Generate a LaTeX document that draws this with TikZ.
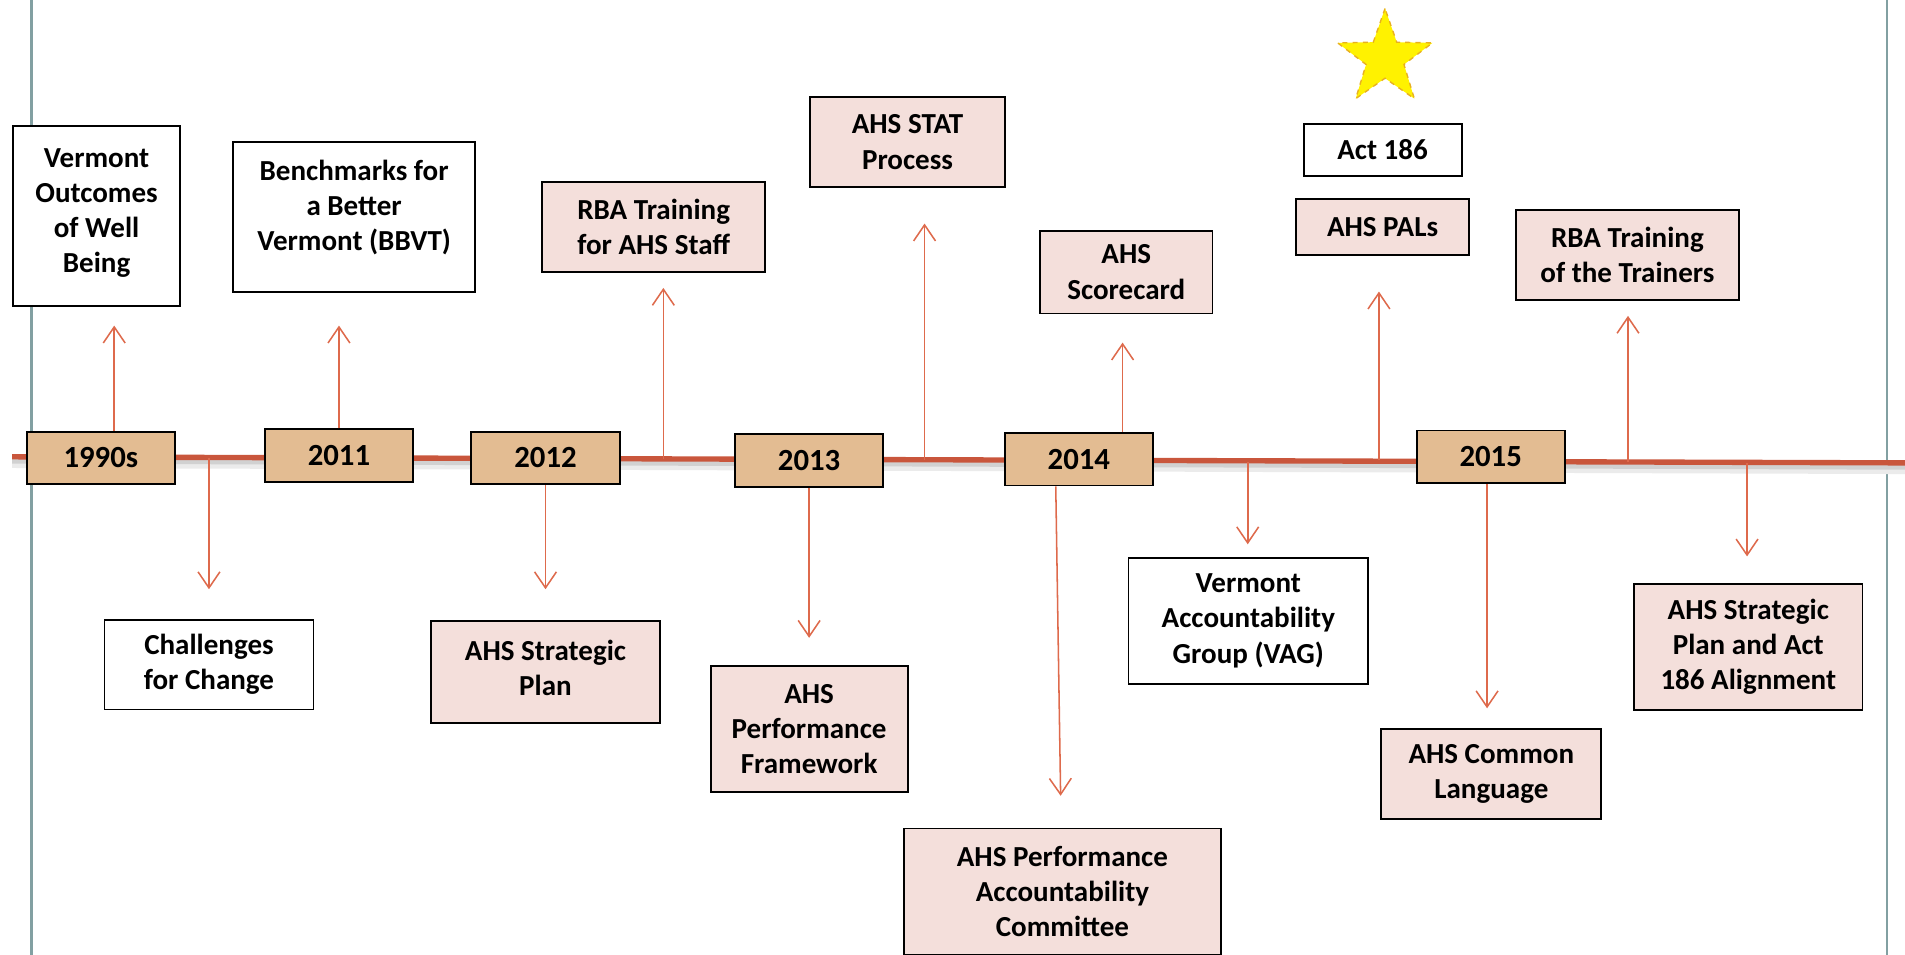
\documentclass[tikz,border=0pt]{standalone}
\usepackage{fontspec}
\setmainfont{Carlito}
\usepackage{tikz}
\usetikzlibrary{arrows.meta}
\usetikzlibrary{shapes.geometric}
\definecolor{YearTan}{HTML}{E3BC92}
\definecolor{NotePink}{HTML}{F4DFDB}
\definecolor{LineRed}{HTML}{C9563C}
\definecolor{ArrowRed}{HTML}{DE6A4C}
\definecolor{EdgeGrey}{HTML}{82A0A2}
\definecolor{StarEdge}{HTML}{E8B020}
\tikzstyle{YearNode}=[rectangle, draw=black, line width=1.1pt, fill=YearTan, minimum width=3.05cm, minimum height=1.08cm, inner sep=0pt, font=\bfseries\fontsize{18}{20}\selectfont]
\tikzstyle{NoteNode}=[rectangle, draw=black, line width=1.1pt, fill=white, align=center, inner sep=0pt, font=\bfseries\fontsize{17}{20.6}\selectfont]
\tikzstyle{PinkNode}=[NoteNode, fill=NotePink]
\tikzstyle{UpEdge}=[->, draw=ArrowRed, line width=0.9pt]
\tikzstyle{DownEdge}=[UpEdge]
\tikzstyle{TimeLine}=[line width=0.11cm, LineRed]
\tikzstyle{PageEdge}=[line width=1.3pt, EdgeGrey]
\tikzset{>={Straight Barb[length=0.33cm, width=0.45cm]}}

\begin{document}
\begin{tikzpicture}[x=0.025cm, y=-0.025cm]
\useasboundingbox (0,0) rectangle (1568,786);

% page edges
\draw[PageEdge] (26,0) -- (26,786);
\draw[PageEdge] (1553,0) -- (1553,786);

% time line
\coordinate (TL) at (10,376);
\coordinate (TR) at (1568,381);
\draw[line width=0.22cm, black!8] ([yshift=-0.12cm]TL) -- ([yshift=-0.12cm]TR);
\draw[line width=0.12cm, black!18] ([yshift=-0.08cm]TL) -- ([yshift=-0.08cm]TR);
\draw[TimeLine](TL) -- (TR);

% years
\node[YearNode](Y1990) at (83,377) {1990s};
\node[YearNode](Y2011) at (279,375) {2011};
\node[YearNode](Y2012) at (449,377) {2012};
\node[YearNode](Y2013) at (666,379) {2013};
\node[YearNode](Y2014) at (888,378) {2014};
\node[YearNode](Y2015) at (1227,376) {2015};

% above the line
\node[NoteNode, minimum width=3.43cm, minimum height=3.7cm](VOWB) at (79.5,178) {Vermont\\Outcomes\\of Well\\Being\\[-14pt]};
\node[NoteNode, minimum width=4.98cm, minimum height=3.08cm](BBVT) at (291.5,178.5) {Benchmarks for\\a Better\\Vermont (BBVT)\\[-7pt]};
\node[PinkNode, minimum width=4.6cm, minimum height=1.85cm](RBAStaff) at (538,187) {RBA Training\\for AHS Staff};
\node[PinkNode, minimum width=4cm, minimum height=1.85cm](STAT) at (747,117) {AHS STAT\\Process};
\node[PinkNode, minimum width=3.55cm, minimum height=1.7cm](Scorecard) at (927,224) {AHS\\Scorecard};
\node[NoteNode, minimum width=3.25cm, minimum height=1.08cm](Act186) at (1138,123.5) {Act 186};
\node[PinkNode, minimum width=3.55cm, minimum height=1.15cm](PALs) at (1138,187) {AHS PALs};
\node[PinkNode, minimum width=4.58cm, minimum height=1.85cm](RBATrainers) at (1339.5,210) {RBA Training\\of the Trainers};
\node[star, star points=5, star point ratio=2.5, minimum size=2.05cm, inner sep=0pt, fill=yellow, draw=StarEdge, dashed, line width=0.8pt](Star) at (1140,48) {};

% below the line
\node[NoteNode, minimum width=4.3cm, minimum height=1.85cm](CFC) at (172,547) {Challenges\\for Change};
\node[PinkNode, minimum width=4.7cm, minimum height=2.1cm](StratPlan) at (449,553) {AHS Strategic\\Plan\\[-16pt]};
\node[PinkNode, minimum width=4.05cm, minimum height=2.6cm](PerfFrame) at (666,600) {AHS\\Performance\\Framework};
\node[PinkNode, minimum width=6.53cm, minimum height=2.6cm](PAC) at (874.5,734) {AHS Performance\\Accountability\\Committee};
\node[NoteNode, minimum width=4.93cm, minimum height=2.6cm](VAG) at (1027.5,511) {Vermont\\Accountability\\Group (VAG)};
\node[PinkNode, minimum width=4.53cm, minimum height=1.85cm](CommonLang) at (1227.5,637) {AHS Common\\Language};
\node[PinkNode, minimum width=4.7cm, minimum height=2.58cm](Alignment) at (1439,532.5) {AHS Strategic\\Plan and Act\\186 Alignment};

% arrow feet on the line and arrow tips
\coordinate (b3) at (546,378);
\coordinate (b4) at (761,379);
\coordinate (b6) at (1135,379);
\coordinate (b7) at (1340,380);
\coordinate (b8) at (172,377);
\coordinate (b9) at (1027,380);
\coordinate (b10) at (1438,381);
\coordinate (u1) at (94,268);
\coordinate (u2) at (279,268);
\coordinate (u3) at (546,237);
\coordinate (u4) at (761,184);
\coordinate (u5) at (924,282);
\coordinate (u6) at (1135,240);
\coordinate (u7) at (1340,260);
\coordinate (d1) at (172,485);
\coordinate (d2) at (449,485);
\coordinate (d3) at (666,525);
\coordinate (d4) at (873,655);
\coordinate (d5) at (1027,448);
\coordinate (d6) at (1224,583);
\coordinate (d7) at (1438,458);

\draw[UpEdge](Y1990.north -| u1) -- (u1);
\draw[UpEdge](Y2011.north -| u2) -- (u2);
\draw[UpEdge](b3) -- (u3);
\draw[UpEdge](b4) -- (u4);
\draw[UpEdge](Y2014.north -| u5) -- (u5);
\draw[UpEdge](b6) -- (u6);
\draw[UpEdge](b7) -- (u7);

\draw[DownEdge](b8) -- (d1);
\draw[DownEdge](Y2012.south -| d2) -- (d2);
\draw[DownEdge](Y2013.south -| d3) -- (d3);
\draw[DownEdge]([xshift=-0.475cm]Y2014.south) -- (d4);
\draw[DownEdge](b9) -- (d5);
\draw[DownEdge](Y2015.south -| d6) -- (d6);
\draw[DownEdge](b10) -- (d7);
\end{tikzpicture}
\end{document}
